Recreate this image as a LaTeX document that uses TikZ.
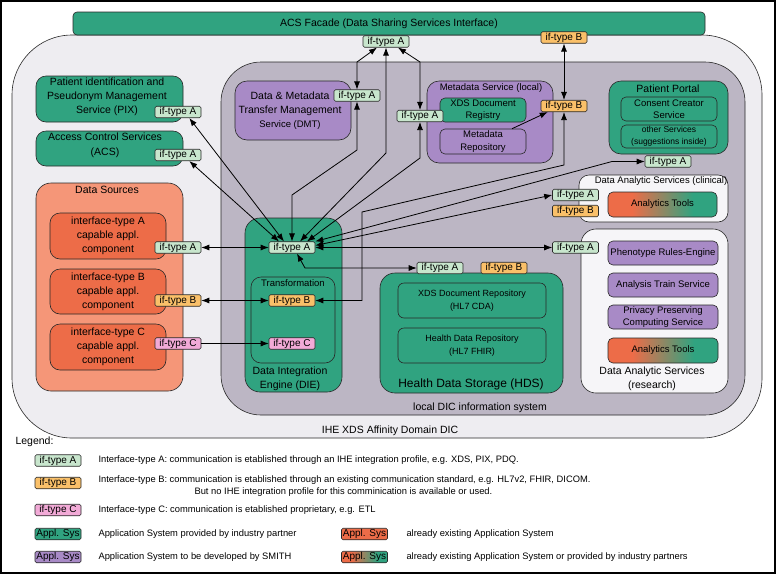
\documentclass[tikz,border=0pt]{standalone}
\usepackage{fontspec}
\setmainfont{Liberation Sans}
\usetikzlibrary{arrows.meta}
\definecolor{cTeal}{RGB}{48,163,128}
\definecolor{cPurple}{RGB}{168,138,198}
\definecolor{cSalmon}{RGB}{245,150,120}
\definecolor{cOrange}{RGB}{237,108,72}
\definecolor{cTagA}{RGB}{200,230,205}
\definecolor{cTagB}{RGB}{250,192,105}
\definecolor{cTagC}{RGB}{242,170,215}
\definecolor{cLocal}{RGB}{188,182,196}
\definecolor{cOuter}{RGB}{238,237,241}
\definecolor{cWhiteBox}{RGB}{246,245,248}
\definecolor{cLine}{RGB}{40,40,40}
\pgfdeclarehorizontalshading{otshade}{100bp}{color(0bp)=(cOrange); color(36bp)=(cOrange); color(64bp)=(cTeal); color(100bp)=(cTeal)}
\begin{document}
\begin{tikzpicture}[x=1pt,y=-1pt,
  box/.style={draw=cLine, line width=0.6pt, inner sep=0pt, align=center},
  tealbox/.style={box, fill=cTeal},
  purplebox/.style={box, fill=cPurple},
  orangebox/.style={box, fill=cOrange},
  gradbox/.style={box, shade, shading=otshade},
  whitebox/.style={box, fill=cWhiteBox},
  tag/.style={draw=cLine, line width=0.6pt, rounded corners=1.5pt, minimum width=46pt, minimum height=11.5pt, inner sep=0pt, font=\fontsize{10}{10}\selectfont},
  tA/.style={tag, fill=cTagA},
  tB/.style={tag, fill=cTagB},
  tC/.style={tag, fill=cTagC},
  fL/.style={font=\fontsize{10.5}{14}\selectfont, align=center},
  fM/.style={font=\fontsize{9.5}{12.5}\selectfont, align=center},
  fS/.style={font=\fontsize{8.5}{12}\selectfont, align=center},
  fG/.style={font=\fontsize{9.35}{12}\selectfont, anchor=west},
  conn/.style={line width=0.8pt, draw=black},
  dbl/.style={conn, {Latex[length=8pt,width=6pt]}-{Latex[length=8pt,width=6pt]}},
  one/.style={conn, -{Latex[length=8pt,width=6pt]}}
]
\useasboundingbox (0,0) rectangle (776,574);
\fill[white] (0,0) rectangle (776,574);
\draw[line width=1.2pt] (1,1) rectangle (775,573);

% outer domain
\node[box, fill=cOuter, rounded corners=60pt, minimum width=750pt, minimum height=403pt] (outer) at (387,236.5) {};
\node[fL] (outerlbl) at (390,431) {IHE XDS Affinity Domain DIC};
% facade
\node[tealbox, rounded corners=4pt, minimum width=632pt, minimum height=23pt, font=\fontsize{10.5}{12}\selectfont] (facade) at (389,23.5) {ACS Facade (Data Sharing Services Interface)};
% local
\node[box, fill=cLocal, rounded corners=40pt, minimum width=524pt, minimum height=353pt] (local) at (483,238.5) {};
\node[fL] (locallbl) at (480,408) {local DIC information system};

% left side
\node[tealbox, rounded corners=10pt, minimum width=147pt, minimum height=46pt] (pix) at (109.5,99) {};
\node[fL] (pixlbl) at (107,97) {Patient identification and\\Pseudonym Management\\Service (PIX)};
\node[tealbox, rounded corners=10pt, minimum width=147pt, minimum height=35pt] (acs) at (109.5,148.5) {};
\node[fL, font=\fontsize{10.5}{15}\selectfont] (acslbl) at (105,145.5) {Access Control Services\\(ACS)};

\node[box, fill=cSalmon, rounded corners=15pt, minimum width=147pt, minimum height=208pt] (ds) at (109.5,287) {};
\node[fL] (dslbl) at (107,190) {Data Sources};
\node[orangebox, rounded corners=10pt, minimum width=116pt, minimum height=46pt, fL] (ifAbox) at (108,236) {interface-type A\\capable appl.\\component};
\node[orangebox, rounded corners=10pt, minimum width=116pt, minimum height=45pt, fL] (ifBbox) at (108,291.5) {interface-type B\\capable appl.\\component};
\node[orangebox, rounded corners=10pt, minimum width=116pt, minimum height=46pt, fL] (ifCbox) at (108,347) {interface-type C\\capable appl.\\component};

% DMT
\node[purplebox, rounded corners=12pt, minimum width=116pt, minimum height=59pt] (dmt) at (293,110.5) {};
\node[fL] (dmtlbl) at (290,111) {Data \& Metadata\\Transfer Management\\{\fontsize{9.5}{12}\selectfont Service (DMT)}};

% Metadata service
\node[purplebox, rounded corners=12pt, minimum width=126pt, minimum height=82pt] (md) at (490,122) {};
\node[fM] (mdlbl) at (491,88) {Metadata Service (local)};
\node[tealbox, rounded corners=5pt, minimum width=86pt, minimum height=24pt, fM] (reg) at (483,110) {XDS Document\\Registry};
\node[purplebox, rounded corners=5pt, minimum width=86pt, minimum height=25pt, fM] (mrep) at (483,141.5) {Metadata\\Repository};

% Patient portal
\node[tealbox, rounded corners=12pt, minimum width=119pt, minimum height=73pt] (portal) at (668.5,117.5) {};
\node[fL] (portallbl) at (668,88.5) {Patient Portal};
\node[tealbox, rounded corners=5pt, minimum width=96pt, minimum height=24pt, fM] (consent) at (669,109) {Consent Creator\\Service};
\node[tealbox, rounded corners=5pt, minimum width=96pt, minimum height=23pt, fS] (other) at (669,136.5) {other Services\\(suggestions inside)};

% Data analytic clinical
\node[whitebox, rounded corners=10pt, minimum width=149pt, minimum height=47pt] (clin) at (653.5,198.5) {};
\node[fM] (clinlbl) at (661,181.5) {Data Analytic Services (clinical)};
\node[gradbox, rounded corners=5pt, minimum width=109pt, minimum height=25pt, fM] (clintools) at (662.5,204.5) {Analytics Tools};

% Data analytic research
\node[whitebox, rounded corners=15pt, minimum width=147pt, minimum height=164pt] (res) at (654.5,311) {};
\node[fL] (reslbl) at (652,379) {Data Analytic Services\\(research)};
\node[purplebox, rounded corners=5pt, minimum width=110pt, minimum height=24pt, fM] (pheno) at (663,253) {Phenotype Rules-Engine};
\node[purplebox, rounded corners=5pt, minimum width=110pt, minimum height=24pt, fM] (train) at (663,285) {Analysis Train Service};
\node[purplebox, rounded corners=5pt, minimum width=110pt, minimum height=24pt, fM] (priv) at (663,317) {Privacy Preserving\\Computing Service};
\node[gradbox, rounded corners=5pt, minimum width=110pt, minimum height=25pt, fM] (restools) at (663,350.5) {Analytics Tools};

% DIE
\node[tealbox, rounded corners=15pt, minimum width=97pt, minimum height=174pt] (die) at (293.5,305) {};
\node[fL] (dielbl) at (290,379) {Data Integration\\Engine (DIE)};
\node[tealbox, rounded corners=10pt, minimum width=84pt, minimum height=86pt] (trans) at (293,320) {};
\node[fM] (translbl) at (293,283.5) {Transformation};

% HDS
\node[tealbox, rounded corners=15pt, minimum width=183pt, minimum height=120pt] (hds) at (471.5,333) {};
\node[font=\fontsize{12}{14}\selectfont] (hdslbl) at (471,384.5) {Health Data Storage (HDS)};
\node[tealbox, rounded corners=6pt, minimum width=148pt, minimum height=35pt, font=\fontsize{9}{12.5}\selectfont] (xdsrep) at (472,300.5) {XDS Document Repository\\(HL7 CDA)};
\node[tealbox, rounded corners=6pt, minimum width=148pt, minimum height=35pt, font=\fontsize{9}{12.5}\selectfont] (hdr) at (472,345.5) {Health Data Repository\\(HL7 FHIR)};

% tags
\node[tA] (facA) at (386,41.5) {if-type A};
\node[tB] (facB) at (564,37.5) {if-type B};
\node[tA] (pixA) at (178,112) {if-type A};
\node[tA] (acsA) at (178,155) {if-type A};
\node[tA] (dsA) at (178,247.5) {if-type A};
\node[tB] (dsB) at (178,300.5) {if-type B};
\node[tC] (dsC) at (178,343.5) {if-type C};
\node[tA] (dieA) at (292,247.5) {if-type A};
\node[tB] (trB) at (292,300.5) {if-type B};
\node[tC] (trC) at (292,343.5) {if-type C};
\node[tA] (dmtA) at (357,95.5) {if-type A};
\node[tA] (mdA) at (420,116) {if-type A};
\node[tB] (mdB) at (564,106) {if-type B};
\node[tA] (portalA) at (668,161.5) {if-type A};
\node[tA] (clinA) at (575.5,195) {if-type A};
\node[tB] (clinB) at (575.5,211) {if-type B};
\node[tA] (resA) at (575.5,247.5) {if-type A};
\node[tA] (hdsA) at (440,268) {if-type A};
\node[tB] (hdsB) at (504,268) {if-type B};

% connectors
\draw[dbl] ([xshift=-12pt]pixA.south east) -- ([xshift=-8pt]dieA.north);
\draw[dbl] ([xshift=-12pt]acsA.south east) -- ([xshift=-13pt]dieA.north);
\draw[dbl] (dsA) -- (dieA);
\draw[dbl] (dsB) -- (trB);
\draw[one] (dsC) -- (trC);
\draw[dbl] ([xshift=-9pt]facA.south) -- (357,62) -- (dmtA.north);
\draw[dbl] (dmtA.south) -- (357,150) -- (292,195) -- (dieA.north);
\draw[dbl] (facA.south) -- (386,153) -- ([xshift=8pt]dieA.north);
\draw[dbl] ([xshift=12pt]facA.south) -- (420,62) -- (mdA.north);
\draw[dbl] (mdA.south) -- (420,158) -- ([xshift=15pt]dieA.north);
\draw[dbl] (facB) -- (mdB);
\draw[dbl] (mdB.south) -- (564,165) -- (362,212) |- (trB.east);
\draw[one] ([xshift=29pt]mrep.north) -- ([xshift=7pt]mdB.south west);
\draw[dbl] (portalA.west) -- (612,161.5) -- (dieA.north east);
\draw[dbl] (clinA.west) -- ([yshift=2pt]dieA.east);
\draw[dbl] (dieA) -- (resA);
\draw[dbl] ([xshift=5pt]dieA.south) -- (305,268) -- (hdsA.west);

% legend
\node[fL, anchor=west] (leg) at (12,442) {Legend:};
\node[tA] (lgA) at (58,460.5) {if-type A};
\node[tB] (lgB) at (58,483) {if-type B};
\node[tC] (lgC) at (58,510) {if-type C};
\node[tag, fill=cTeal] (lgT) at (58,534) {Appl. Sys};
\node[tag, fill=cPurple] (lgP) at (58,557) {Appl. Sys};
\node[tag, fill=cOrange] (lgO) at (364.5,534) {Appl. Sys};
\node[tag, shade, shading=otshade] (lgG) at (364.5,557) {Appl. Sys};
\node[fG] (lgAt) at (95,460) {Interface-type A: communication is etablished through an IHE integration profile, e.g. XDS, PIX, PDQ.};
\node[fG] (lgBt) at (95,480) {Interface-type B: communication is etablished through an existing communication standard, e.g. HL7v2, FHIR, DICOM.};
\node[fG] (lgBt2) at (191,492) {But no IHE integration profile for this comminication is available or used.};
\node[fG] (lgCt) at (95,510) {Interface-type C: communication is etablished proprietary, e.g. ETL};
\node[fG] (lgTt) at (95,534) {Application System provided by industry partner};
\node[fG] (lgPt) at (95,557) {Application System to be developed by SMITH};
\node[fG] (lgOt) at (403,534) {already existing Application System};
\node[fG] (lgGt) at (403,557) {already existing Application System or provided by industry partners};
\end{tikzpicture}
\end{document}
